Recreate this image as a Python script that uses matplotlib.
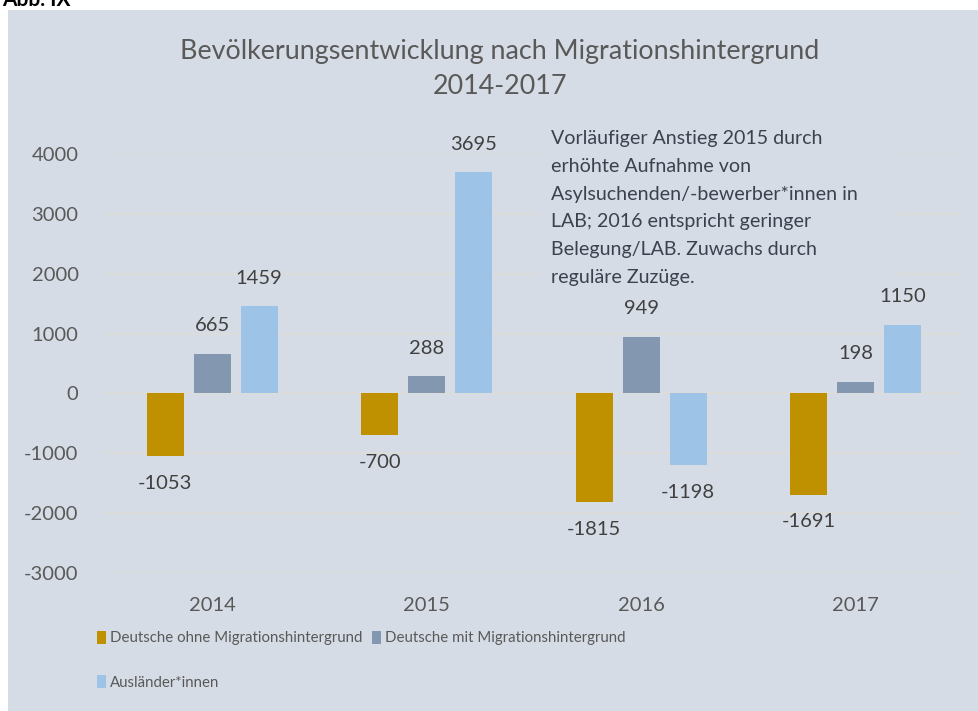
import numpy as np
import matplotlib
matplotlib.use("Agg")
import matplotlib.pyplot as plt
from matplotlib.patches import Rectangle

# --- Daten ---
jahre = ["2014", "2015", "2016", "2017"]
deutsche_ohne = [-1053, -700, -1815, -1691]
deutsche_mit = [665, 288, 949, 198]
auslaender = [1459, 3695, -1198, 1150]

serien = ["Deutsche ohne Migrationshintergrund",
          "Deutsche mit Migrationshintergrund",
          "Ausländer*innen"]
farben = ["#BF9000", "#8497B0", "#9DC3E6"]

titel = "Bevölkerungsentwicklung nach Migrationshintergrund\n2014-2017"
hinweis = ("Vorläufiger Anstieg 2015 durch\n"
           "erhöhte Aufnahme von\n"
           "Asylsuchenden/-bewerber*innen in\n"
           "LAB; 2016 entspricht geringer\n"
           "Belegung/LAB. Zuwachs durch\n"
           "reguläre Zuzüge.")

bg = "#D6DCE5"
grid_c = "#DEDCDA"
txt_c = "#595959"

plt.rcParams['font.family'] = ['Lato', 'DejaVu Sans']
plt.rcParams['axes.unicode_minus'] = False

W, H = 979, 711
fig = plt.figure(figsize=(W / 100, H / 100), dpi=100, facecolor="white")

# grauer Hintergrund des Diagramms
fig.patches.append(Rectangle((8 / W, 0), 1 - 8 / W, 1 - 10 / H,
                             transform=fig.transFigure, facecolor=bg,
                             edgecolor="none", zorder=-5))

fig.text(0.002, 1 - 6 / H, "Abb. IX", fontsize=15, fontweight="bold",
         color="black", va="baseline", ha="left")

ax = fig.add_axes([105 / W, 1 - 573 / H, (963 - 105) / W, (573 - 154) / H])
ax.set_facecolor("none")

x = np.arange(len(jahre))
breite = 0.1725
schritt = 0.219
werte = [deutsche_ohne, deutsche_mit, auslaender]
for i, (name, vals, col) in enumerate(zip(serien, werte, farben)):
    pos = x + (i - 1) * schritt
    bars = ax.bar(pos, vals, width=breite, color=col, label=name, zorder=3)
    for b, v in zip(bars, vals):
        off = 20 if v >= 0 else -19.5
        ax.annotate(f"{v}", (b.get_x() + b.get_width() / 2, v),
                    xytext=(0, off), textcoords="offset points",
                    ha="center", va="center", fontsize=14.5,
                    color="#404040", zorder=4, annotation_clip=False)

ax.set_xlim(-0.5, 3.5)
ax.set_ylim(-3000, 4000)
ax.set_yticks(np.arange(-3000, 4001, 1000))
ax.set_xticks(x)
ax.set_xticklabels(jahre)
ax.yaxis.grid(True, color=grid_c, linewidth=1.2, zorder=1)
ax.set_axisbelow(True)
for s in ax.spines.values():
    s.set_visible(False)
ax.tick_params(axis="both", length=0, labelsize=14.5, labelcolor=txt_c)
ax.tick_params(axis="y", pad=19)
ax.tick_params(axis="x", pad=17)

# Hinweisbox deckt die Gitterlinien ab
ax.add_patch(Rectangle((540 / W, 1 - 292 / H), (898 - 540) / W, (292 - 112) / H,
                       transform=fig.transFigure, facecolor=bg,
                       edgecolor="none", zorder=2))
fig.text(551 / W, 1 - 130 / H, hinweis, fontsize=14.1, color="#39424E",
         va="top", ha="left", linespacing=1.77, zorder=5)

fig.text(500 / W, 1 - 69 / H, titel, fontsize=19.4, color=txt_c,
         ha="center", va="center", linespacing=1.55)

# Legende
h, l = ax.get_legend_handles_labels()
order = [0, 2, 1]
leg = fig.legend([h[k] for k in order], [l[k] for k in order], ncol=2,
                 loc="upper left", bbox_to_anchor=(97 / W, 1 - 631 / H),
                 frameon=False, borderpad=0, borderaxespad=0,
                 handlelength=0.62, handleheight=0.92, handletextpad=0.25,
                 columnspacing=0.65, labelspacing=2.0,
                 prop={"size": 10.8})
for t in leg.get_texts():
    t.set_color(txt_c)

fig.savefig("out.png", dpi=100, facecolor="white")
